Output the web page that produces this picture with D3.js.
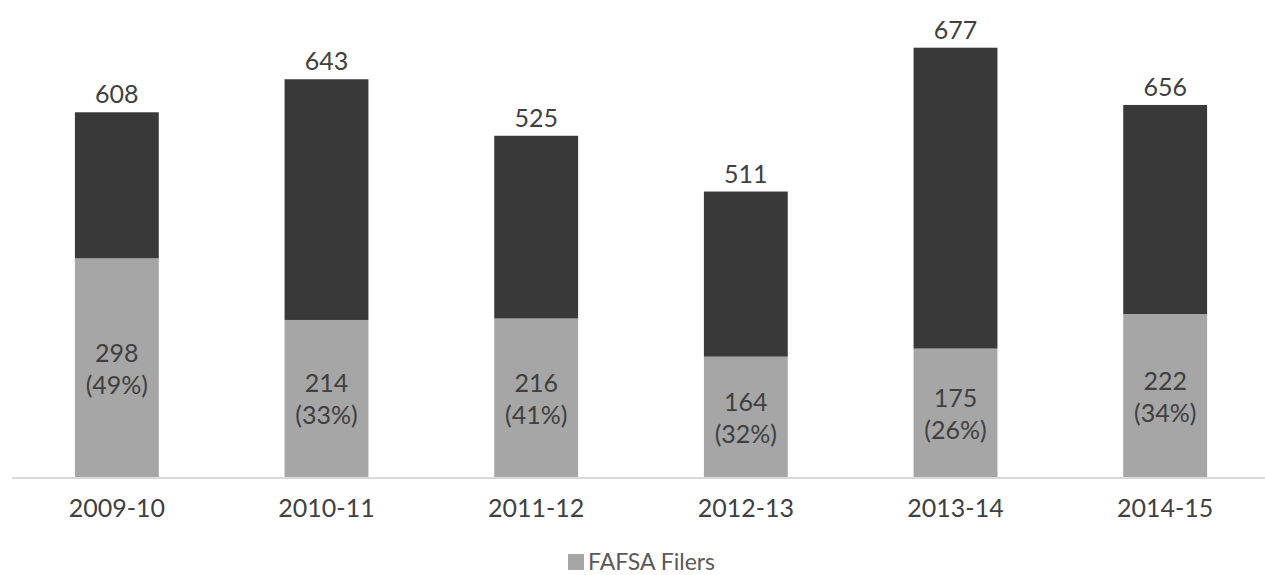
<!DOCTYPE html>
<html>
<head>
<meta charset="utf-8">
<script src="https://cdn.jsdelivr.net/npm/d3@7"></script>
<style>
  body { margin: 0; background: #fff; }
  text { font-family: "Century Gothic", Lato, "Open Sans", sans-serif; }
</style>
</head>
<body>
<svg id="chart"></svg>
<script>
// data
const years = ["2009-10", "2010-11", "2011-12", "2012-13", "2013-14", "2014-15"];
const fafsaFilers = [298, 214, 216, 164, 175, 222];
const fafsaPct = ["49%", "33%", "41%", "32%", "26%", "34%"];
// dark segment stacked on top (as drawn in the original)
const upperSegment = [199, 328, 249, 225, 410, 285];
const totalLabels = [608, 643, 525, 511, 677, 656];

const width = 1265, height = 575;
const baseY = 477;

const svg = d3.select("#chart")
    .attr("width", width)
    .attr("height", height);

const x = d3.scaleBand()
    .domain(years)
    .range([12, 1270])
    .paddingInner(0.6)
    .paddingOuter(0.3);

const y = d3.scaleLinear()
    .domain([0, 650])
    .range([baseY, 0]);

const rows = years.map((yr, i) => ({
    year: yr,
    fafsa: fafsaFilers[i],
    upper: upperSegment[i],
    pct: fafsaPct[i],
    total: totalLabels[i]
}));

// light bottom segment
svg.selectAll(".bar-fafsa")
    .data(rows)
    .enter().append("rect")
    .attr("class", "bar-fafsa")
    .attr("x", d => x(d.year))
    .attr("y", d => y(d.fafsa))
    .attr("width", x.bandwidth())
    .attr("height", d => y(0) - y(d.fafsa))
    .attr("fill", "#a6a6a6");

// dark top segment
svg.selectAll(".bar-upper")
    .data(rows)
    .enter().append("rect")
    .attr("class", "bar-upper")
    .attr("x", d => x(d.year))
    .attr("y", d => y(d.fafsa + d.upper))
    .attr("width", x.bandwidth())
    .attr("height", d => y(d.fafsa) - y(d.fafsa + d.upper))
    .attr("fill", "#393939");

// x axis
const xAxis = svg.append("g")
    .attr("transform", `translate(0, ${baseY})`)
    .call(d3.axisBottom(x).tickSize(0).tickPadding(22));
xAxis.select(".domain").attr("stroke", "#d9d9d9").attr("stroke-width", 2)
    .attr("d", `M12,1H1265`);
xAxis.selectAll("text")
    .attr("font-size", 25)
    .attr("fill", "#404040")
    .style("font-family", "\"Century Gothic\", Lato, \"Open Sans\", sans-serif");

// total labels above bars
svg.selectAll(".total-label")
    .data(rows)
    .enter().append("text")
    .attr("class", "total-label")
    .attr("x", d => x(d.year) + x.bandwidth() / 2)
    .attr("y", d => y(d.fafsa + d.upper) - 9)
    .attr("text-anchor", "middle")
    .attr("font-size", 25)
    .attr("fill", "#404040")
    .text(d => d.total);

// labels inside bottom segment
const inner = svg.selectAll(".inner-label")
    .data(rows)
    .enter().append("text")
    .attr("class", "inner-label")
    .attr("text-anchor", "middle")
    .attr("font-size", 25)
    .attr("fill", "#404040");

inner.append("tspan")
    .attr("x", d => x(d.year) + x.bandwidth() / 2)
    .attr("y", d => (y(d.fafsa) + y(0)) / 2 - 6)
    .text(d => d.fafsa);

inner.append("tspan")
    .attr("x", d => x(d.year) + x.bandwidth() / 2)
    .attr("y", d => (y(d.fafsa) + y(0)) / 2 + 26)
    .text(d => `(${d.pct})`);

// legend
const legend = svg.append("g")
    .attr("transform", "translate(568, 554)");
legend.append("rect")
    .attr("width", 16)
    .attr("height", 16)
    .attr("fill", "#a6a6a6");
legend.append("text")
    .attr("x", 20)
    .attr("y", 16)
    .attr("font-size", 23)
    .attr("fill", "#595959")
    .text("FAFSA Filers");
</script>
</body>
</html>
